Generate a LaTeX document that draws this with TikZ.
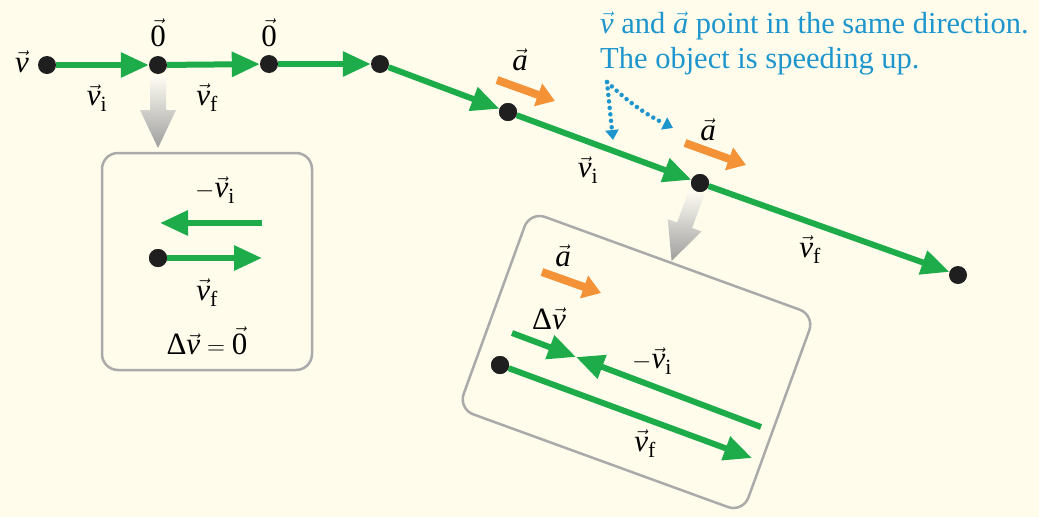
\documentclass[tikz,border=0pt]{standalone}
\usepackage{fontspec}
\setmainfont{Liberation Serif}
\usetikzlibrary{arrows.meta}
\definecolor{bg}{RGB}{255,252,236}
\definecolor{vgreen}{RGB}{30,172,75}
\definecolor{aorange}{RGB}{243,146,55}
\definecolor{tblue}{RGB}{30,150,205}
\definecolor{boxgray}{RGB}{170,170,170}
\newcommand\vv[1]{\vec{\mathit{#1}}}
\newcommand\vzero{\vec{\mathrm{0}}}
\newcommand\Dlt{\mbox{Δ}}
\begin{document}
\begin{tikzpicture}[x=1pt,y=-1pt,
  dot/.style={circle,fill=black!88,inner sep=0pt,minimum size=18pt},
  vel/.style={draw=vgreen,line width=6pt,-{Triangle[length=28pt,width=24pt]}},
  acc/.style={draw=aorange,line width=8pt,-{Triangle[length=18pt,width=23pt]}},
  lab/.style={font=\fontsize{31}{33}\selectfont,inner sep=0pt},
  note/.style={font=\fontsize{30.5}{34}\selectfont,text=tblue,inner sep=0pt,anchor=base west},
  pointer/.style={draw=tblue,line width=4.5pt,line cap=round,dash pattern=on 0pt off 6.5pt,-{Triangle[length=10pt,width=13pt]}},
  panel/.style={draw=boxgray,line width=2.5pt,rounded corners=16pt,inner sep=0pt},
  grayarrow/.pic={\shade[top color=bg!60!white,bottom color=black!38]
     (-8,10) -- (8,10) -- (8,45) -- (18,45) -- (0,83) -- (-18,45) -- (-8,45) -- cycle;}
]
\fill[bg] (0,0) rectangle (1039,517);
\useasboundingbox (0,0) rectangle (1039,517);

% panels
\node[panel,minimum width=210pt,minimum height=217pt] (box1) at (207,261.5) {};
\node[panel,minimum width=303pt,minimum height=210pt,rotate=-20] (box2) at (636.5,362) {};

% gray transition arrows
\pic at (158,65) {grayarrow};
\pic[rotate=-20] at (700,183) {grayarrow};

% main motion diagram
\node[dot] (p0) at (47,65) {};
\node[dot] (p1) at (158,65) {};
\node[dot] (p2) at (269,64) {};
\node[dot] (p3) at (380,64) {};
\node[dot] (p4) at (508,112) {};
\node[dot] (p5) at (700,183) {};
\node[dot] (p6) at (958,275) {};
\draw[vel] (p0) -- (p1);
\draw[vel] (p1) -- (p2);
\draw[vel] (p2) -- (p3);
\draw[vel] (p3) -- (p4);
\draw[vel] (p4) -- (p5);
\draw[vel] (p5) -- (p6);
\node[dot] at (p4) {};
\node[dot] at (p5) {};

\node[lab] (lv) at (22,62) {$\vv{v}$};
\node[lab] (l01) at (158,33) {$\vzero$};
\node[lab] (l02) at (269,33) {$\vzero$};
\node[lab] (lvi1) at (97,98) {$\vv{v}_{\mathrm{i}}$};
\node[lab] (lvf1) at (207,98) {$\vv{v}_{\mathrm{f}}$};
\node[lab] (lvi2) at (588,170) {$\vv{v}_{\mathrm{i}}$};
\node[lab] (lvf2) at (810,250) {$\vv{v}_{\mathrm{f}}$};

% acceleration
\node[lab] (la1) at (520,60) {$\vv{a}$};
\coordinate (a1s) at (497,80); \coordinate (a1e) at (555,101);
\draw[acc] (a1s) -- (a1e);
\node[lab] (la2) at (708,130) {$\vv{a}$};
\coordinate (a2s) at (685,143); \coordinate (a2e) at (746,165);
\draw[acc] (a2s) -- (a2e);

% note
\node[note] (n1) at (600,33) {$\vv{v}$ and $\vv{a}$ point in the same direction.};
\node[note] (n2) at (600,68) {The object is speeding up.};
\coordinate (ps) at (607,82);
\coordinate (pe1) at (613,140);
\coordinate (pe2) at (673,128);
\draw[pointer] (ps) -- (pe1);
\draw[pointer] (ps) to[bend right=8] (pe2);

% box 1 contents
\node[lab] (lnvi) at (215,190) {$-\vv{v}_{\mathrm{i}}$};
\coordinate (b1s) at (262,223); \coordinate (b1e) at (160,223);
\draw[vel] (b1s) -- (b1e);
\node[dot] (q0) at (158,258) {};
\coordinate (b1f) at (262,258);
\draw[vel] (q0) -- (b1f);
\node[dot] at (q0) {};
\node[lab] (lvf3) at (207,293) {$\vv{v}_{\mathrm{f}}$};
\node[lab] (ldv0) at (207,341) {$\Dlt\vv{v} = \vzero$};

% box 2 contents
\node[lab] (la3) at (563,256) {$\vv{a}$};
\coordinate (a3s) at (542,272); \coordinate (a3e) at (601,293);
\draw[acc] (a3s) -- (a3e);
\node[lab] (ldv) at (549,319) {$\Dlt\vv{v}$};
\coordinate (dvs) at (512,333); \coordinate (dvm) at (576,357);
\draw[vel] (dvs) -- (dvm);
\coordinate (nvs) at (761,427);
\draw[vel] (nvs) -- (dvm);
\node[lab] (lnvi2) at (652,361) {$-\vv{v}_{\mathrm{i}}$};
\node[dot] (q1) at (500,365) {};
\coordinate (vfe) at (752,458);
\draw[vel] (q1) -- (vfe);
\node[dot] at (q1) {};
\node[lab] (lvf4) at (645,444) {$\vv{v}_{\mathrm{f}}$};
\end{tikzpicture}
\end{document}
